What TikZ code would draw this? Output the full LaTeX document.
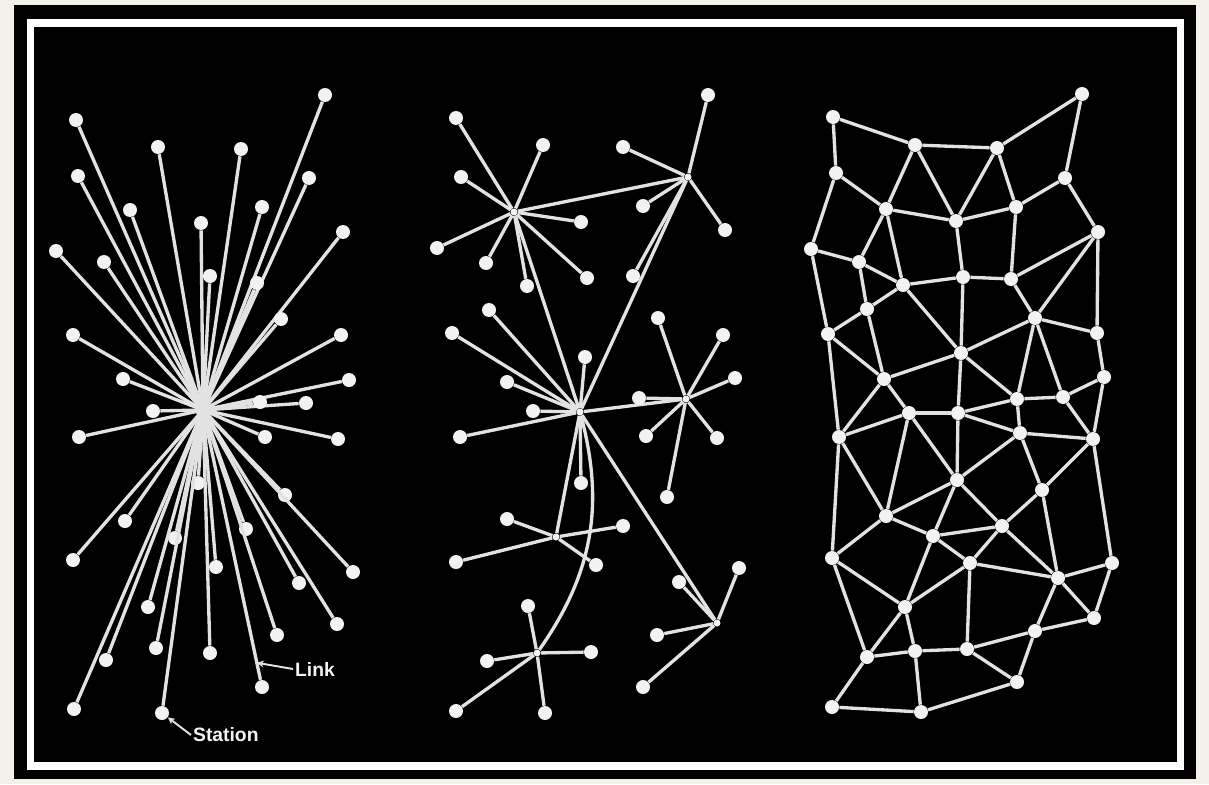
\documentclass[tikz,border=0pt]{standalone}
\usepackage{fontspec}
\setmainfont{Liberation Sans}
\usetikzlibrary{arrows.meta}
\definecolor{PaperCream}{HTML}{F3F0E9}
\definecolor{PanelBlack}{HTML}{000000}
\definecolor{WireGray}{HTML}{E2E2E2}
\definecolor{DotWhite}{HTML}{F2F2F2}
\tikzset{
    % Node styles
    stationdot/.style={
        circle,
        fill=DotWhite,
        draw=none,
        inner sep=0pt,
        minimum size=0.28cm
    },
    hubdot/.style={
        circle,
        fill=DotWhite,
        draw=none,
        inner sep=0pt,
        minimum size=0.14cm
    },
    labeltext/.style={
        font=\fontsize{11}{13}\selectfont\bfseries,
        text=DotWhite,
        inner sep=1pt
    },
    % Line styles
    linkline/.style={
        draw=WireGray,
        line width=1.9pt
    },
    calloutarrow/.style={
        ->,
        >={Stealth[length=4pt,width=4pt]},
        draw=WireGray,
        line width=1.1pt
    }
}

\begin{document}
\begin{tikzpicture}[x=0.02cm, y=-0.02cm]
    % Paper and frame
    \fill[PaperCream] (0,0) rectangle (1209,784);
    \useasboundingbox (0,0) rectangle (1209,784);
    \fill[PanelBlack] (14,5) rectangle (1196,779);
    \draw[white, line width=4.5pt] (30.5,23) rectangle (1180.5,766);

    % Centralized
    \node[hubdot, minimum size=0.3cm] (hubL) at (203,410) {};
    \foreach \name/\x/\y in {c1/325/95, c2/76/120, c3/158/147, c4/241/149,
        c5/78/176, c6/309/178, c7/130/210, c8/262/207, c9/201/223,
        c10/343/232, c11/56/251, c12/104/262, c13/210/276, c14/257/283,
        c15/281/319, c16/73/335, c17/341/335, c18/123/379, c19/349/380,
        c20/153/411, c21/306/403, c22/260/402, c23/79/437, c24/265/437,
        c25/338/439, c26/198/483, c27/285/495, c28/125/521, c29/246/529,
        c30/175/538, c31/73/560, c32/216/567, c33/353/572, c34/299/583,
        c35/148/607, c36/337/624, c37/277/635, c38/156/648, c39/210/653,
        c40/106/660, c41/262/687, c42/74/709, c43/162/713}{
        \node[stationdot] (\name) at (\x,\y) {};
        \draw[linkline] (hubL.center) -- (\name);
    }

    % Labels
    \path (hubL) -- (c41) coordinate[pos=0.935] (linkpt);
    \node[labeltext, anchor=west] (linklabel) at (293,669) {Link};
    \node[labeltext, anchor=west] (stationlabel) at (191,735) {Station};
    \draw[calloutarrow] (linklabel.west) -- (linkpt);
    \draw[calloutarrow] (stationlabel.west) -- (c43);

    % Decentralized - hubs
    \node[hubdot] (hubA) at (514,212) {};
    \node[hubdot] (hubB) at (688,177) {};
    \node[hubdot] (hubC) at (580,412) {};
    \node[hubdot] (hubD) at (686,399) {};
    \node[hubdot] (hubE) at (556,537) {};
    \node[hubdot] (hubF) at (537,653) {};
    \node[hubdot] (hubG) at (717,623) {};
    \draw[linkline] (hubA) -- (hubB);
    \draw[linkline] (hubA) -- (hubC);
    \draw[linkline] (hubB) -- (hubC);
    \draw[linkline] (hubC) -- (hubD);
    \draw[linkline] (hubC) -- (hubE);
    \draw[linkline] (hubC) -- (hubG);
    \draw[linkline] (hubC) to[bend left=25] (hubF);

    % Decentralized - stations
    \foreach \hub/\pts in {hubA/{456/118,543/145,461/177,437/248,486/263,527/286,581/222,587/278},
        hubB/{708/95,623/147,643/206,725/230,633/276},
        hubC/{489/310,452/333,585/357,507/382,533/411,460/437,581/483},
        hubD/{658/318,723/335,735/378,639/398,646/436,717/438,667/497},
        hubE/{507/519,623/526,456/562,596/565},
        hubF/{528/606,487/661,591/652,456/711,545/713},
        hubG/{679/582,739/568,657/635,643/687}}{
        \foreach \x/\y [count=\k] in \pts {
            \node[stationdot] (\hub-s\k) at (\x,\y) {};
            \draw[linkline] (\hub) -- (\hub-s\k);
        }
    }

    % Distributed - stations
    \foreach \name/\x/\y in {ra/833/117, rb/1082/94, rc/915/145, rd/997/148,
        re/836/173, rf/1065/178, rg/886/209, rh/956/221, ri/1016/207,
        rj/1098/232, rk/811/249, rl/859/262, rm/903/285, rn/963/277,
        ro/1011/279, rp/867/309, rq/1035/318, rr/828/334, rs/1097/333,
        rt/961/353, ru/884/379, rv/1104/377, rw/1017/399, rx/1063/397,
        ry/909/413, rz/958/413, r1/839/437, r2/1020/433, r3/1093/439,
        r4/957/480, r5/1042/490, r6/886/516, r7/1002/526, r8/933/536,
        r9/832/558, r10/970/563, r11/1112/563, r12/1058/578, r13/905/607,
        r14/1094/618, r15/1035/631, r16/867/657, r17/915/651, r18/967/649,
        r19/1017/682, r20/832/707, r21/921/712}{
        \node[stationdot] (\name) at (\x,\y) {};
    }

    % Distributed - links
    \foreach \u/\v in {ra/rc, ra/re, rc/rd, rd/rb, rb/rf, rc/rg, rc/rh, rd/rh,
        rd/ri, re/rg, re/rk, rg/rh, rh/ri, ri/rf, rf/rj, rg/rl, rg/rm, rh/rn,
        ri/ro, rj/ro, rj/rq, rj/rs, rk/rl, rk/rr, rl/rm, rl/rp, rm/rn, rm/rt,
        rm/rp, rn/ro, rn/rt, ro/rq, rp/rr, rp/ru, rq/rt, rq/rs, rq/rw, rq/rx,
        rr/ru, rr/r1, rs/rv, rt/ru, rt/rw, rt/rz, ru/ry, ru/r1, rv/rx, rv/r3,
        rw/rx, rw/rz, rw/r2, rx/r3, ry/rz, ry/r1, ry/r6, ry/r4, rz/r4, rz/r2,
        r1/r6, r1/r9, r2/r3, r2/r4, r2/r5, r3/r5, r3/r11, r4/r6, r4/r8, r4/r7,
        r5/r7, r5/r12, r6/r8, r6/r9, r7/r8, r7/r10, r7/r12, r8/r13, r8/r10,
        r9/r13, r9/r16, r10/r13, r10/r18, r10/r12, r11/r12, r11/r14, r12/r14,
        r12/r15, r13/r16, r13/r17, r14/r15, r15/r18, r15/r19, r16/r17,
        r16/r20, r17/r18, r17/r21, r18/r19, r19/r21, r20/r21}{
        \draw[linkline] (\u) -- (\v);
    }
\end{tikzpicture}
\end{document}
